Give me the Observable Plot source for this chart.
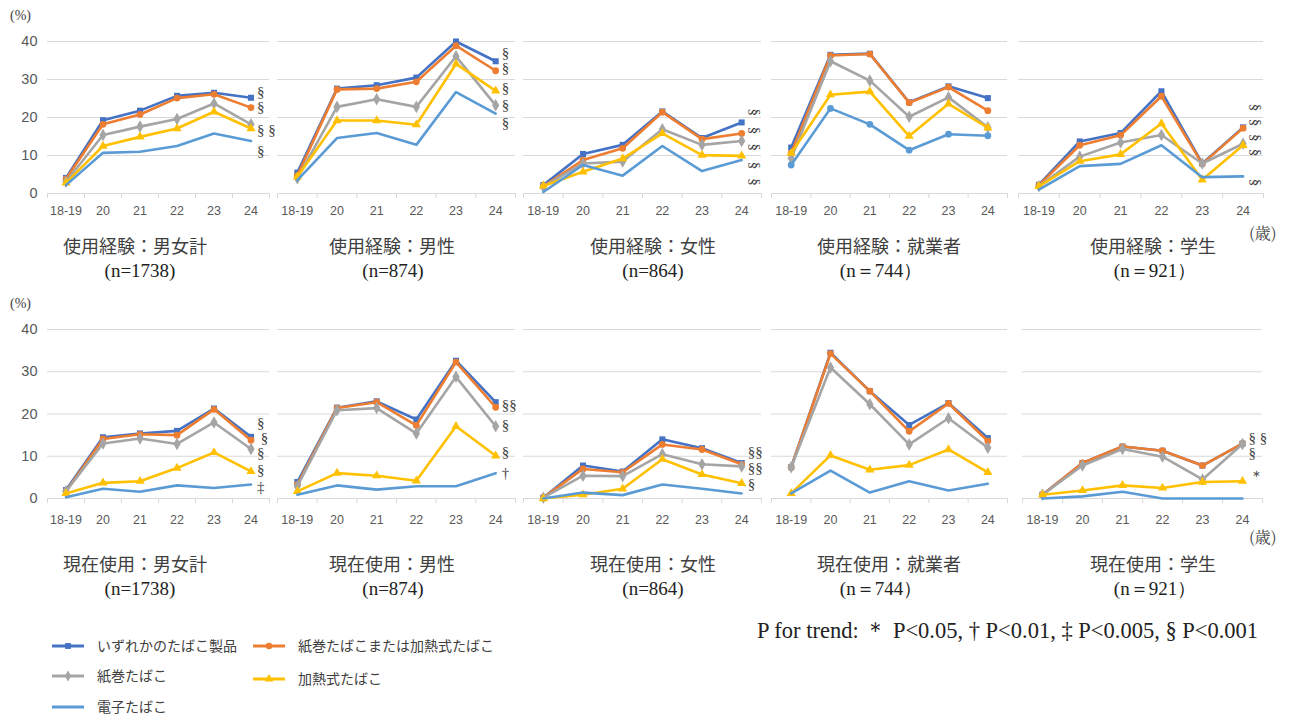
<!DOCTYPE html>
<html><head><meta charset="utf-8">
<script src="https://cdn.jsdelivr.net/npm/d3@7"></script>
<script src="https://cdn.jsdelivr.net/npm/@observablehq/plot@0.6"></script>
<style>
body{margin:0;background:#fff;}
#root{position:relative;width:1296px;height:718px;overflow:hidden;font-family:"Noto Sans CJK JP",sans-serif;color:#404040}
.abs{position:absolute;white-space:nowrap;line-height:1}
.plot-wrap{position:absolute}
.plot-wrap svg{overflow:visible}
</style></head><body><div id="root"></div><script>
// ---------- data ----------
const ages = ["18-19","20","21","22","23","24"];
const seriesNames = ["いずれかのたばこ製品","紙巻たばこまたは加熱式たばこ","紙巻たばこ","加熱式たばこ","電子たばこ"];
const seriesColors = ["#4472C4","#ED7D31","#A5A5A5","#FFC000","#5B9BD5"];
const seriesSymbols = ["square","circle","diamond","triangle","circle"];

const titlesTop = ["使用経験：男女計","使用経験：男性","使用経験：女性","使用経験：就業者","使用経験：学生"];
const titlesBottom = ["現在使用：男女計","現在使用：男性","現在使用：女性","現在使用：就業者","現在使用：学生"];
const sampleN = ["(n=1738)","(n=874)","(n=864)","(n＝744）","(n＝921）"];
const yTicks = [0,10,20,30,40];

// rows: any product, cig or HTP, cigarettes, HTP, e-cig ; columns: ages
const expTotal = [[4.1,19.3,21.8,25.7,26.5,25.2],[3.8,18.2,20.8,25.1,26.1,22.6],[3.1,15.4,17.6,19.6,23.7,18.2],[2.8,12.5,14.9,17.1,21.5,17.1],[2.2,10.7,11.0,12.5,15.8,13.8]];
const expMale = [[5.5,27.6,28.5,30.5,40.0,34.8],[4.7,27.4,27.6,29.4,38.9,32.3],[4.0,22.8,24.8,22.8,36.1,23.2],[4.4,19.2,19.2,18.1,34.1,27.0],[3.5,14.6,15.9,12.8,26.7,21.0]];
const expFemale = [[2.2,10.4,12.8,21.6,14.6,18.7],[1.9,8.8,11.9,21.4,14.3,15.8],[1.8,7.9,8.4,16.9,12.8,13.8],[2.0,5.7,9.2,15.8,10.1,9.9],[0.4,7.5,4.7,12.5,5.9,8.8]];
const expWorker = [[12.1,36.5,36.8,24.0,28.2,25.1],[10.6,36.3,36.7,23.9,28.0,21.8],[9.3,34.8,29.7,20.2,25.3,17.4],[10.6,26.0,26.8,15.1,23.6,17.3],[7.5,22.4,18.2,11.4,15.6,15.2]];
const expStudent = [[2.3,13.7,15.9,26.9,7.9,17.4],[2.2,12.7,15.3,25.6,7.8,17.2],[1.9,9.7,13.4,15.4,7.9,13.1],[1.9,8.5,10.3,18.4,3.6,12.7],[1.0,7.2,7.8,12.7,4.3,4.5]];
const curTotal = [[2.0,14.5,15.4,16.0,21.3,14.6],[1.7,14.1,15.2,15.0,21.1,13.8],[1.7,13.0,14.2,12.9,18.0,11.7],[1.2,3.7,4.1,7.2,10.9,6.4],[0.3,2.3,1.6,3.1,2.5,3.3]];
const curMale = [[3.9,21.5,23.0,18.7,32.6,22.8],[3.3,21.4,22.8,17.3,32.3,21.6],[2.9,20.9,21.4,15.4,28.8,17.1],[1.7,6.0,5.4,4.2,17.1,10.1],[0.9,3.1,2.1,2.9,2.9,6.0]];
const curFemale = [[0.2,7.8,6.4,14.0,11.9,8.4],[0.2,7.0,6.2,12.8,11.6,8.1],[0.2,5.4,5.3,10.5,8.1,7.6],[0.0,0.9,2.3,9.3,5.7,3.6],[0.0,1.4,0.8,3.3,2.3,1.2]];
const curWorker = [[7.4,34.5,25.4,17.4,22.6,14.3],[7.4,34.3,25.4,15.9,22.5,13.6],[7.4,31.0,22.3,12.8,19.0,12.0],[1.2,10.2,6.8,7.9,11.6,6.2],[1.2,6.6,1.4,4.1,1.9,3.5]];
const curStudent = [[0.9,8.4,12.3,11.3,7.8,13.0],[0.9,8.4,12.3,11.3,7.8,13.0],[0.9,7.8,11.7,9.9,4.5,12.9],[0.9,1.9,3.1,2.5,3.9,4.1],[0.0,0.5,1.6,0.0,0.0,0.0]];

// P-for-trend marks at the 24-year end: [symbol, value level]
const trendExpTotal = [["§",26.6],["§",22.6],["§\u00a0§",16.6],["§",11.1]];
const trendExpMale = [["§",36.8],["§",32.9],["§",27.6],["§",23.2],["§",18.4]];
const trendExpFemale = [["§",21.4],["§",16.6],["§",12.2],["§",7.4],["§",3.0]];
const trendExpWorker = [];
const trendExpStudent = [["§",22.6],["§",18.7],["§",14.7],["§",10.8],["§",2.9]];
const trendCurTotal = [["§",17.8],["\u00a0§",14.3],["§",10.8],["§",6.8],["‡",2.6]];
const trendCurMale = [["§§",22.0],["§",17.3],["§",11.0],["†",6.1]];
const trendCurFemale = [["§§",11.0],["§§",7.2],["§",3.3]];
const trendCurWorker = [];
const trendCurStudent = [["§\u00a0§",14.3],["§",10.8],["＊",5.2]];
const ecigWithMarkers = ["使用経験：就業者"];

const trendNote = "P for trend:  ＊ P<0.05, † P<0.01, ‡ P<0.005, § P<0.001";

// ---------- layout ----------
const root = document.getElementById("root");
const topPanels = [
  {title: titlesTop[0], n: sampleN[0], vals: expTotal, trend: trendExpTotal, L: 47, R: 269, rot: false},
  {title: titlesTop[1], n: sampleN[1], vals: expMale, trend: trendExpMale, L: 277, R: 515, rot: false},
  {title: titlesTop[2], n: sampleN[2], vals: expFemale, trend: trendExpFemale, L: 523, R: 761, rot: true},
  {title: titlesTop[3], n: sampleN[3], vals: expWorker, trend: trendExpWorker, L: 771, R: 1007, rot: false},
  {title: titlesTop[4], n: sampleN[4], vals: expStudent, trend: trendExpStudent, L: 1018, R: 1263, rot: true}
];
const bottomPanels = [
  {title: titlesBottom[0], n: sampleN[0], vals: curTotal, trend: trendCurTotal, L: 47, R: 269, rot: false},
  {title: titlesBottom[1], n: sampleN[1], vals: curMale, trend: trendCurMale, L: 277, R: 515, rot: false},
  {title: titlesBottom[2], n: sampleN[2], vals: curFemale, trend: trendCurFemale, L: 523, R: 761, rot: false},
  {title: titlesBottom[3], n: sampleN[3], vals: curWorker, trend: trendCurWorker, L: 771, R: 1007, rot: false},
  {title: titlesBottom[4], n: sampleN[4], vals: curStudent, trend: trendCurStudent, L: 1022, R: 1262, rot: false}
];

function drawPanel(p, idx, row) {
  const y0 = row.y0, y40 = row.y40, svgTop = row.svgTop;
  const marginTop = y40 - svgTop;
  const marginBottom = 34;
  const height = (y0 - svgTop) + marginBottom;
  const first = idx === 0;
  const marginLeft = first ? p.L : 0;
  const width = p.R - p.L + marginLeft;
  const data = [];
  p.vals.forEach((arr, si) => arr.forEach((v, ai) => data.push({series: seriesNames[si], si, ai, v})));
  const marks = [
    Plot.ruleY(yTicks, {stroke: "#d9d9d9", strokeWidth: 1}),
    Plot.axisX({ticks: d3.range(-0.5, 6, 1), tickSize: 5, tickFormat: () => "", stroke: "#d9d9d9", label: null}),
    Plot.axisX({ticks: d3.range(0, 6), tickSize: 0, tickPadding: row.tickPad, tickFormat: i => ages[i], fontSize: 12.5, fill: "#595959", fontFamily: "Liberation Sans", label: null})
  ];
  if (first) marks.push(Plot.axisY({ticks: yTicks, tickSize: 0, tickPadding: 10, fontSize: 14.5, fill: "#595959", fontFamily: "Liberation Sans", label: null}));
  seriesNames.forEach((s, si) => {
    const d = data.filter(e => e.si === si);
    marks.push(Plot.line(d, {x: "ai", y: "v", stroke: "series", strokeWidth: 2.6, strokeLinejoin: "round"}));
    const showMarks = si < 4 || ecigWithMarkers.includes(p.title);
    if (showMarks) marks.push(Plot.dot(d, {x: "ai", y: "v", fill: "series", symbol: "series", r: si === 2 ? 3.8 : 3.4, stroke: "none"}));
  });
  marks.push(Plot.text(p.trend, {
    x: () => ages.length - 1, y: d => d[1], text: d => d[0],
    dx: p.rot ? 13 : 6, textAnchor: p.rot ? "middle" : "start", rotate: p.rot ? 90 : 0,
    fontSize: 15, fontFamily: "Liberation Serif", fill: "#404040"
  }));
  const chart = Plot.plot({
    width, height, marginTop, marginBottom, marginLeft, marginRight: 0,
    style: {background: "transparent", overflow: "visible"},
    x: {type: "linear", domain: [-0.5, 5.5], label: null},
    y: {domain: [0, 40], axis: first ? undefined : null, label: null},
    color: {domain: seriesNames, range: seriesColors},
    symbol: {domain: seriesNames, range: seriesSymbols},
    marks
  });
  const wrap = document.createElement("div");
  wrap.className = "plot-wrap";
  wrap.style.left = (p.L - marginLeft) + "px";
  wrap.style.top = svgTop + "px";
  wrap.appendChild(chart);
  root.appendChild(wrap);
}

function addText(txt, x, y, css) {
  const d = document.createElement("div");
  d.className = "abs";
  d.textContent = txt;
  Object.assign(d.style, css);
  d.style.left = x + "px";
  d.style.top = y + "px";
  root.appendChild(d);
  return d;
}

const rows = [
  {panels: topPanels, svgTop: 0, y40: 41, y0: 193, tickPad: 13, titleY: 236, nY: 261, pctY: 9, ageY: 225},
  {panels: bottomPanels, svgTop: 290, y40: 329, y0: 498, tickPad: 17, titleY: 554, nY: 579, pctY: 297, ageY: 529}
];
const titleCenters = [135, 392, 653, 889, 1153];
const nCenters = [140, 393, 653, 881, 1155];
rows.forEach(row => {
  row.panels.forEach((p, i) => drawPanel(p, i, row));
  row.panels.forEach((p, i) => {
    addText(p.title, titleCenters[i], row.titleY, {fontSize: "18px", color: "#404040", fontFamily: "'Noto Sans CJK JP'", transform: "translateX(-50%)"});
    addText(p.n, nCenters[i], row.nY, {fontSize: "19px", color: "#222", fontFamily: "'Liberation Serif'", transform: "translateX(-50%)"});
  });
  addText("(%)", 10, row.pctY, {fontSize: "14px", color: "#404040", fontFamily: "'Liberation Serif'"});
  addText("(歳)", 1249, row.ageY, {fontSize: "16px", color: "#404040", fontFamily: "'Noto Serif CJK JP','Liberation Serif'"});
});

// legend
const legendItems = [
  {si: 0, x: 52, y: 646}, {si: 1, x: 253, y: 646},
  {si: 2, x: 52, y: 676}, {si: 3, x: 253, y: 679},
  {si: 4, x: 52, y: 707}
];
legendItems.forEach(it => {
  const svg = d3.create("svg").attr("width", 40).attr("height", 14)
    .style("position", "absolute").style("left", it.x + "px").style("top", (it.y - 7) + "px");
  svg.append("line").attr("x1", 0).attr("x2", 32).attr("y1", 7).attr("y2", 7)
    .attr("stroke", seriesColors[it.si]).attr("stroke-width", 3);
  if (it.si < 4) {
    const sym = d3.symbol().type([d3.symbolSquare, d3.symbolCircle, d3.symbolDiamond, d3.symbolTriangle][it.si]).size(34);
    svg.append("path").attr("d", sym()).attr("transform", "translate(16,7)").attr("fill", seriesColors[it.si]);
  }
  root.appendChild(svg.node());
  addText(seriesNames[it.si], it.x + 45, it.y - 8, {fontSize: "14px", color: "#404040", fontFamily: "'Noto Sans CJK JP'"});
});

addText(trendNote, 757, 620, {fontSize: "22.5px", color: "#222", fontFamily: "'Liberation Serif'"});
</script></body></html>
